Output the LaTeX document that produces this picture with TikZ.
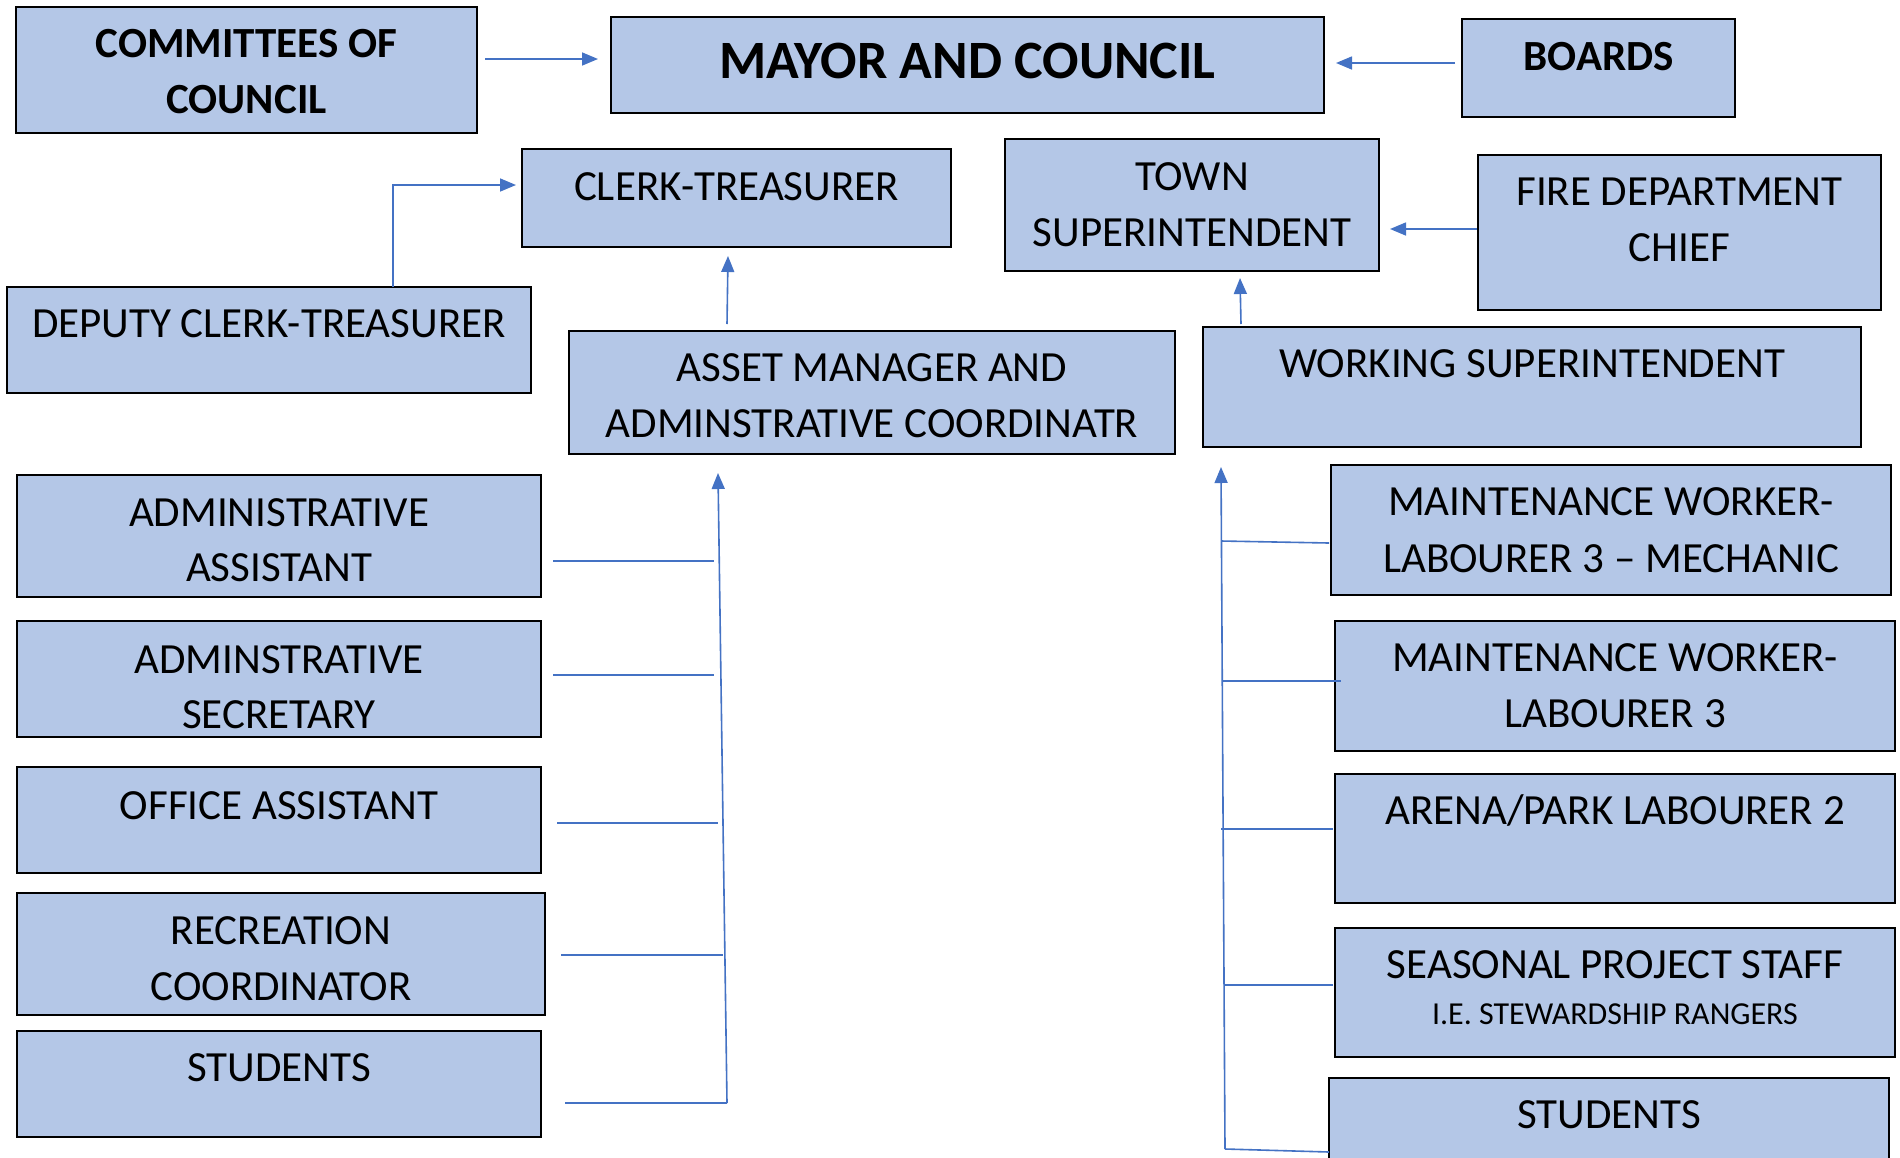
\documentclass[tikz,border=0pt]{standalone}
\usepackage{fontspec}
\setmainfont{Carlito}
\usetikzlibrary{arrows.meta,fit}
\definecolor{boxfill}{HTML}{B4C7E7}
\definecolor{linkblue}{HTML}{4472C4}
% rectangle spanning two corner points
\newcommand\orgnode[5]{\node[orgbox, fit={(#2,#3) (#4,#5)}] (#1) {};}
\begin{document}
\begin{tikzpicture}[x=1pt,y=-1pt,
  orgbox/.style={draw=black, line width=2.4pt, fill=boxfill, inner sep=0pt, outer sep=0pt},
  lbl/.style={anchor=base, inner sep=0pt, font=\fontsize{43}{50}\selectfont},
  lblbold/.style={anchor=base, inner sep=0pt, font=\fontsize{43}{50}\selectfont\bfseries},
  lbltitle/.style={anchor=base, inner sep=0pt, font=\fontsize{54}{60}\selectfont\bfseries},
  lblsmall/.style={anchor=base, inner sep=0pt, font=\fontsize{32}{38}\selectfont},
  link/.style={draw=linkblue, line width=1.6pt},
  linkarrow/.style={link, -{Triangle[length=16pt,width=13pt]}}]
\useasboundingbox (0,0) rectangle (1900,1157);
\fill[white] (0,0) rectangle (1900,1157);
\clip (0,0) rectangle (1900,1157);

% ---- top row
\orgnode{comm}{16}{7}{477}{133}
\orgnode{mayor}{611}{17}{1324}{113}
\orgnode{boards}{1462}{19}{1735}{117}
\node[lblbold] (comm-a) at (246.5,57) {COMMITTEES OF};
\node[lblbold] (comm-b) at (246.5,113) {COUNCIL};
\node[lbltitle] (mayor-a) at (967.5,78) {MAYOR AND COUNCIL};
\node[lblbold] (boards-a) at (1598.5,70) {BOARDS};

% ---- officers
\orgnode{clerk}{522}{149}{951}{247}
\orgnode{town}{1005}{139}{1379}{271}
\orgnode{fire}{1478}{155}{1881}{310}
\orgnode{deputy}{7}{287}{531}{393}
\orgnode{asset}{569}{331}{1175}{454}
\orgnode{works}{1203}{327}{1861}{447}
\node[lbl] (clerk-a) at (736.5,200) {CLERK-TREASURER};
\node[lbl] (town-a) at (1192,190) {TOWN};
\node[lbl] (town-b) at (1192,246) {SUPERINTENDENT};
\node[lbl] (fire-a) at (1679.5,205) {FIRE DEPARTMENT};
\node[lbl] (fire-b) at (1679.5,261) {CHIEF};
\node[lbl] (deputy-a) at (269,337) {DEPUTY CLERK-TREASURER};
\node[lbl] (asset-a) at (872,381) {ASSET MANAGER AND};
\node[lbl] (asset-b) at (872,437) {ADMINSTRATIVE COORDINATR};
\node[lbl] (works-a) at (1532,377) {WORKING SUPERINTENDENT};

% ---- office staff (left column)
\orgnode{aa}{17}{475}{541}{597}
\orgnode{sec}{17}{621}{541}{737}
\orgnode{oa}{17}{767}{541}{873}
\orgnode{rc}{17}{893}{545}{1015}
\orgnode{stl}{17}{1031}{541}{1137}
\node[lbl] (aa-a) at (279,526) {ADMINISTRATIVE};
\node[lbl] (aa-b) at (279,581) {ASSISTANT};
\node[lbl] (sec-a) at (279,673) {ADMINSTRATIVE};
\node[lbl] (sec-b) at (279,728) {SECRETARY};
\node[lbl] (oa-a) at (279,819) {OFFICE ASSISTANT};
\node[lbl] (rc-a) at (281,944) {RECREATION};
\node[lbl] (rc-b) at (281,1000) {COORDINATOR};
\node[lbl] (stl-a) at (279,1081) {STUDENTS};

% ---- works staff (right column)
\orgnode{mech}{1331}{465}{1891}{595}
\orgnode{mw}{1335}{621}{1895}{751}
\orgnode{arena}{1335}{774}{1895}{903}
\orgnode{seas}{1335}{928}{1895}{1057}
\orgnode{str}{1329}{1078}{1889}{1175}
\node[lbl] (mech-a) at (1611,515) {MAINTENANCE WORKER-};
\node[lbl] (mech-b) at (1611,572) {LABOURER 3 – MECHANIC};
\node[lbl] (mw-a) at (1615,671) {MAINTENANCE WORKER-};
\node[lbl] (mw-b) at (1615,727) {LABOURER 3};
\node[lbl] (arena-a) at (1615,824) {ARENA/PARK LABOURER 2};
\node[lbl] (seas-a) at (1615,978) {SEASONAL PROJECT STAFF};
\node[lblsmall] (seas-b) at (1615,1024) {I.E. STEWARDSHIP RANGERS};
\node[lbl] (str-a) at (1609,1128) {STUDENTS};

% ---- connector end points
\coordinate (comm-out) at (485,59);
\coordinate (mayor-inw) at (598,59);
\coordinate (boards-out) at (1455,63);
\coordinate (mayor-ine) at (1336,63);
\coordinate (fire-out) at (1477,229);
\coordinate (town-ine) at (1390,229);
\coordinate (deputy-out) at (393,287);
\coordinate (clerk-inw) at (516,185);
\coordinate (asset-out) at (727,324);
\coordinate (clerk-ins) at (728,256);
\coordinate (works-out) at (1241,324);
\coordinate (town-ins) at (1240,278);

\coordinate (ltrunk-top) at (718,473);
\coordinate (ltrunk-bot) at (727,1103);
\coordinate (aa-out) at (553,561);   \coordinate (aa-j) at (714,561);
\coordinate (sec-out) at (553,675);  \coordinate (sec-j) at (714,675);
\coordinate (oa-out) at (557,823);   \coordinate (oa-j) at (718,823);
\coordinate (rc-out) at (561,955);   \coordinate (rc-j) at (723,955);
\coordinate (stl-out) at (565,1103);

\coordinate (rtrunk-top) at (1221,467);
\coordinate (rtrunk-bot) at (1225,1149);
\coordinate (mech-j) at (1221,541);  \coordinate (mech-out) at (1329,543);
\coordinate (mw-j) at (1222,681);    \coordinate (mw-out) at (1341,681);
\coordinate (arena-j) at (1221,829); \coordinate (arena-out) at (1333,829);
\coordinate (seas-j) at (1224,985);  \coordinate (seas-out) at (1333,985);
\coordinate (str-out) at (1329,1152);

% ---- connectors
\draw[linkarrow] (comm-out) -- (mayor-inw);
\draw[linkarrow] (boards-out) -- (mayor-ine);
\draw[linkarrow] (fire-out) -- (town-ine);
\draw[linkarrow] (deputy-out) |- (clerk-inw);
\draw[linkarrow] (asset-out) -- (clerk-ins);
\draw[linkarrow] (works-out) -- (town-ins);

\draw[linkarrow] (ltrunk-bot) -- (ltrunk-top);
\draw[link] (aa-out) -- (aa-j);
\draw[link] (sec-out) -- (sec-j);
\draw[link] (oa-out) -- (oa-j);
\draw[link] (rc-out) -- (rc-j);
\draw[link] (stl-out) -- (ltrunk-bot);

\draw[linkarrow] (rtrunk-bot) -- (rtrunk-top);
\draw[link] (mech-j) -- (mech-out);
\draw[link] (mw-j) -- (mw-out);
\draw[link] (arena-j) -- (arena-out);
\draw[link] (seas-j) -- (seas-out);
\draw[link] (rtrunk-bot) -- (str-out);
\end{tikzpicture}
\end{document}
